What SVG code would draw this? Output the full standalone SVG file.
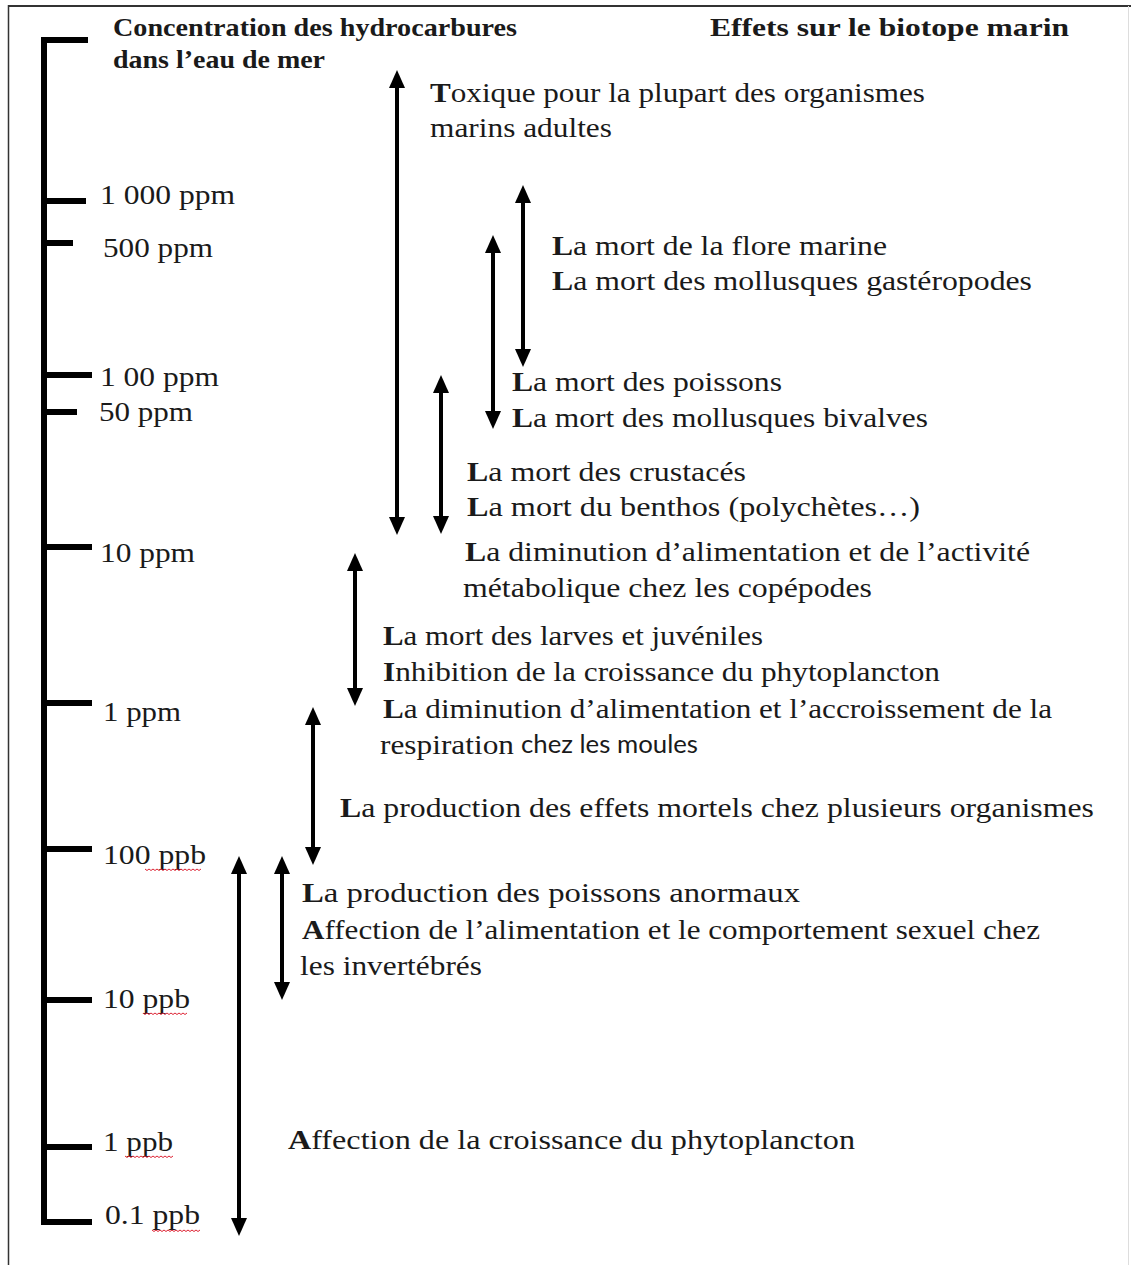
<svg xmlns="http://www.w3.org/2000/svg" width="1131" height="1265" viewBox="0 0 1131 1265">
<style>
.t{font-family:"Liberation Serif","Times New Roman",serif;font-size:27px;fill:#1a1a1a}
.h{font-family:"Liberation Serif","Times New Roman",serif;font-size:25px;font-weight:bold;fill:#1a1a1a}
.s{font-family:"Lato","Open Sans",sans-serif;font-size:25px;fill:#1a1a1a}
.b{font-weight:bold}
.ax{stroke:#000;stroke-width:6;fill:none}
.ar{stroke:#000;stroke-width:4;fill:none;marker-start:url(#ah);marker-end:url(#ah)}
.sq{stroke:#d23;stroke-width:1;fill:none}
</style>
<defs>
<marker id="ah" markerUnits="userSpaceOnUse" markerWidth="18" markerHeight="16" refX="9" refY="8" orient="auto-start-reverse" viewBox="0 0 18 16">
<path d="M0,0 L18,8 L0,16 z" fill="#000"/>
</marker>
</defs>
<rect width="1131" height="1265" fill="#fff"/>
<g id="frame">
<line x1="8" y1="6" x2="1131" y2="6" stroke="#333" stroke-width="2"/>
<line x1="8.5" y1="5" x2="8.5" y2="1265" stroke="#333" stroke-width="1.5"/>
<line x1="1128.5" y1="6" x2="1128.5" y2="1265" stroke="#ddd" stroke-width="1"/>
</g>
<g id="axis">
<path class="ax" d="M88,40 H44 V1222 H92"/>
<line class="ax" x1="44" y1="201" x2="86" y2="201"/>
<line class="ax" x1="44" y1="243" x2="73" y2="243"/>
<line class="ax" x1="44" y1="375" x2="92" y2="375"/>
<line class="ax" x1="44" y1="412" x2="77" y2="412"/>
<line class="ax" x1="44" y1="547" x2="92" y2="547"/>
<line class="ax" x1="44" y1="703" x2="92" y2="703"/>
<line class="ax" x1="44" y1="849" x2="92" y2="849"/>
<line class="ax" x1="44" y1="1000" x2="92" y2="1000"/>
<line class="ax" x1="44" y1="1147" x2="92" y2="1147"/>
</g>
<g id="axis-labels">
<text class="t" x="100" y="204" textLength="135" lengthAdjust="spacingAndGlyphs">1 000 ppm</text>
<text class="t" x="103" y="257" textLength="110" lengthAdjust="spacingAndGlyphs">500 ppm</text>
<text class="t" x="100" y="386" textLength="119" lengthAdjust="spacingAndGlyphs">1 00 ppm</text>
<text class="t" x="99" y="421" textLength="94" lengthAdjust="spacingAndGlyphs">50 ppm</text>
<text class="t" x="100" y="562" textLength="95" lengthAdjust="spacingAndGlyphs">10 ppm</text>
<text class="t" x="103" y="721" textLength="78" lengthAdjust="spacingAndGlyphs">1 ppm</text>
<text class="t" x="103" y="864" textLength="103" lengthAdjust="spacingAndGlyphs">100 ppb</text>
<text class="t" x="103" y="1008" textLength="87" lengthAdjust="spacingAndGlyphs">10 ppb</text>
<text class="t" x="103" y="1151" textLength="70" lengthAdjust="spacingAndGlyphs">1 ppb</text>
<text class="t" x="105" y="1224" textLength="95" lengthAdjust="spacingAndGlyphs">0.1 ppb</text>
<path class="sq" d="M145,869 l2,1.5 l2,-1.5 l2,1.5 l2,-1.5 l2,1.5 l2,-1.5 l2,1.5 l2,-1.5 l2,1.5 l2,-1.5 l2,1.5 l2,-1.5 l2,1.5 l2,-1.5 l2,1.5 l2,-1.5 l2,1.5 l2,-1.5 l2,1.5 l2,-1.5 l2,1.5 l2,-1.5 l2,1.5 l2,-1.5 l2,1.5 l2,-1.5 l2,1.5 l2,-1.5"/>
<path class="sq" d="M143,1013 l2,1.5 l2,-1.5 l2,1.5 l2,-1.5 l2,1.5 l2,-1.5 l2,1.5 l2,-1.5 l2,1.5 l2,-1.5 l2,1.5 l2,-1.5 l2,1.5 l2,-1.5 l2,1.5 l2,-1.5 l2,1.5 l2,-1.5 l2,1.5 l2,-1.5 l2,1.5 l2,-1.5"/>
<path class="sq" d="M125,1156 l2,1.5 l2,-1.5 l2,1.5 l2,-1.5 l2,1.5 l2,-1.5 l2,1.5 l2,-1.5 l2,1.5 l2,-1.5 l2,1.5 l2,-1.5 l2,1.5 l2,-1.5 l2,1.5 l2,-1.5 l2,1.5 l2,-1.5 l2,1.5 l2,-1.5 l2,1.5 l2,-1.5 l2,1.5 l2,-1.5"/>
<path class="sq" d="M152,1230 l2,1.5 l2,-1.5 l2,1.5 l2,-1.5 l2,1.5 l2,-1.5 l2,1.5 l2,-1.5 l2,1.5 l2,-1.5 l2,1.5 l2,-1.5 l2,1.5 l2,-1.5 l2,1.5 l2,-1.5 l2,1.5 l2,-1.5 l2,1.5 l2,-1.5 l2,1.5 l2,-1.5 l2,1.5 l2,-1.5"/>
</g>
<g id="headers">
<text class="h" x="113" y="36" textLength="404" lengthAdjust="spacingAndGlyphs">Concentration des hydrocarbures</text>
<text class="h" x="113" y="68" textLength="212" lengthAdjust="spacingAndGlyphs">dans l’eau de mer</text>
<text class="h" x="710" y="36" textLength="359" lengthAdjust="spacingAndGlyphs">Effets sur le biotope marin</text>
</g>
<g id="connectors">
<line class="ar" x1="397" y1="79" x2="397" y2="526"/>
<line class="ar" x1="523" y1="194" x2="523" y2="358"/>
<line class="ar" x1="493" y1="244" x2="493" y2="420"/>
<line class="ar" x1="441" y1="384" x2="441" y2="525"/>
<line class="ar" x1="355" y1="562" x2="355" y2="697"/>
<line class="ar" x1="313" y1="716" x2="313" y2="856"/>
<line class="ar" x1="282" y1="865" x2="282" y2="991"/>
<line class="ar" x1="239" y1="865" x2="239" y2="1227"/>
</g>
<g id="n-toxique">
<text class="t" x="430" y="102" textLength="495" lengthAdjust="spacingAndGlyphs"><tspan class="b">T</tspan>oxique pour la plupart des organismes</text>
<text class="t" x="430" y="137" textLength="182" lengthAdjust="spacingAndGlyphs">marins adultes</text>
</g>
<g id="n-flore">
<text class="t" x="552" y="255" textLength="335" lengthAdjust="spacingAndGlyphs"><tspan class="b">L</tspan>a mort de la flore marine</text>
<text class="t" x="552" y="290" textLength="480" lengthAdjust="spacingAndGlyphs"><tspan class="b">L</tspan>a mort des mollusques gastéropodes</text>
</g>
<g id="n-poissons">
<text class="t" x="512" y="391" textLength="270" lengthAdjust="spacingAndGlyphs"><tspan class="b">L</tspan>a mort des poissons</text>
<text class="t" x="512" y="427" textLength="416" lengthAdjust="spacingAndGlyphs"><tspan class="b">L</tspan>a mort des mollusques bivalves</text>
</g>
<g id="n-crustaces">
<text class="t" x="467" y="481" textLength="279" lengthAdjust="spacingAndGlyphs"><tspan class="b">L</tspan>a mort des crustacés</text>
<text class="t" x="467" y="516" textLength="453" lengthAdjust="spacingAndGlyphs"><tspan class="b">L</tspan>a mort du benthos (polychètes…)</text>
</g>
<g id="n-copepodes">
<text class="t" x="465" y="561" textLength="565" lengthAdjust="spacingAndGlyphs"><tspan class="b">L</tspan>a diminution d’alimentation et de l’activité</text>
<text class="t" x="463" y="597" textLength="409" lengthAdjust="spacingAndGlyphs">métabolique chez les copépodes</text>
</g>
<g id="n-larves">
<text class="t" x="383" y="645" textLength="380" lengthAdjust="spacingAndGlyphs"><tspan class="b">L</tspan>a mort des larves et juvéniles</text>
<text class="t" x="383" y="681" textLength="557" lengthAdjust="spacingAndGlyphs"><tspan class="b">I</tspan>nhibition de la croissance du phytoplancton</text>
<text class="t" x="383" y="718" textLength="669" lengthAdjust="spacingAndGlyphs"><tspan class="b">L</tspan>a diminution d’alimentation et l’accroissement de la</text>
<text class="t" x="380" y="754" textLength="134" lengthAdjust="spacingAndGlyphs">respiration</text>
<text class="s" x="521" y="753" textLength="177" lengthAdjust="spacingAndGlyphs">chez les moules</text>
</g>
<g id="n-mortels">
<text class="t" x="340" y="817" textLength="754" lengthAdjust="spacingAndGlyphs"><tspan class="b">L</tspan>a production des effets mortels chez plusieurs organismes</text>
</g>
<g id="n-anormaux">
<text class="t" x="302" y="902" textLength="498" lengthAdjust="spacingAndGlyphs"><tspan class="b">L</tspan>a production des poissons anormaux</text>
<text class="t" x="302" y="939" textLength="738" lengthAdjust="spacingAndGlyphs"><tspan class="b">A</tspan>ffection de l’alimentation et le comportement sexuel chez</text>
<text class="t" x="300" y="975" textLength="182" lengthAdjust="spacingAndGlyphs">les invertébrés</text>
</g>
<g id="n-phyto">
<text class="t" x="288" y="1149" textLength="567" lengthAdjust="spacingAndGlyphs"><tspan class="b">A</tspan>ffection de la croissance du phytoplancton</text>
</g>
</svg>
